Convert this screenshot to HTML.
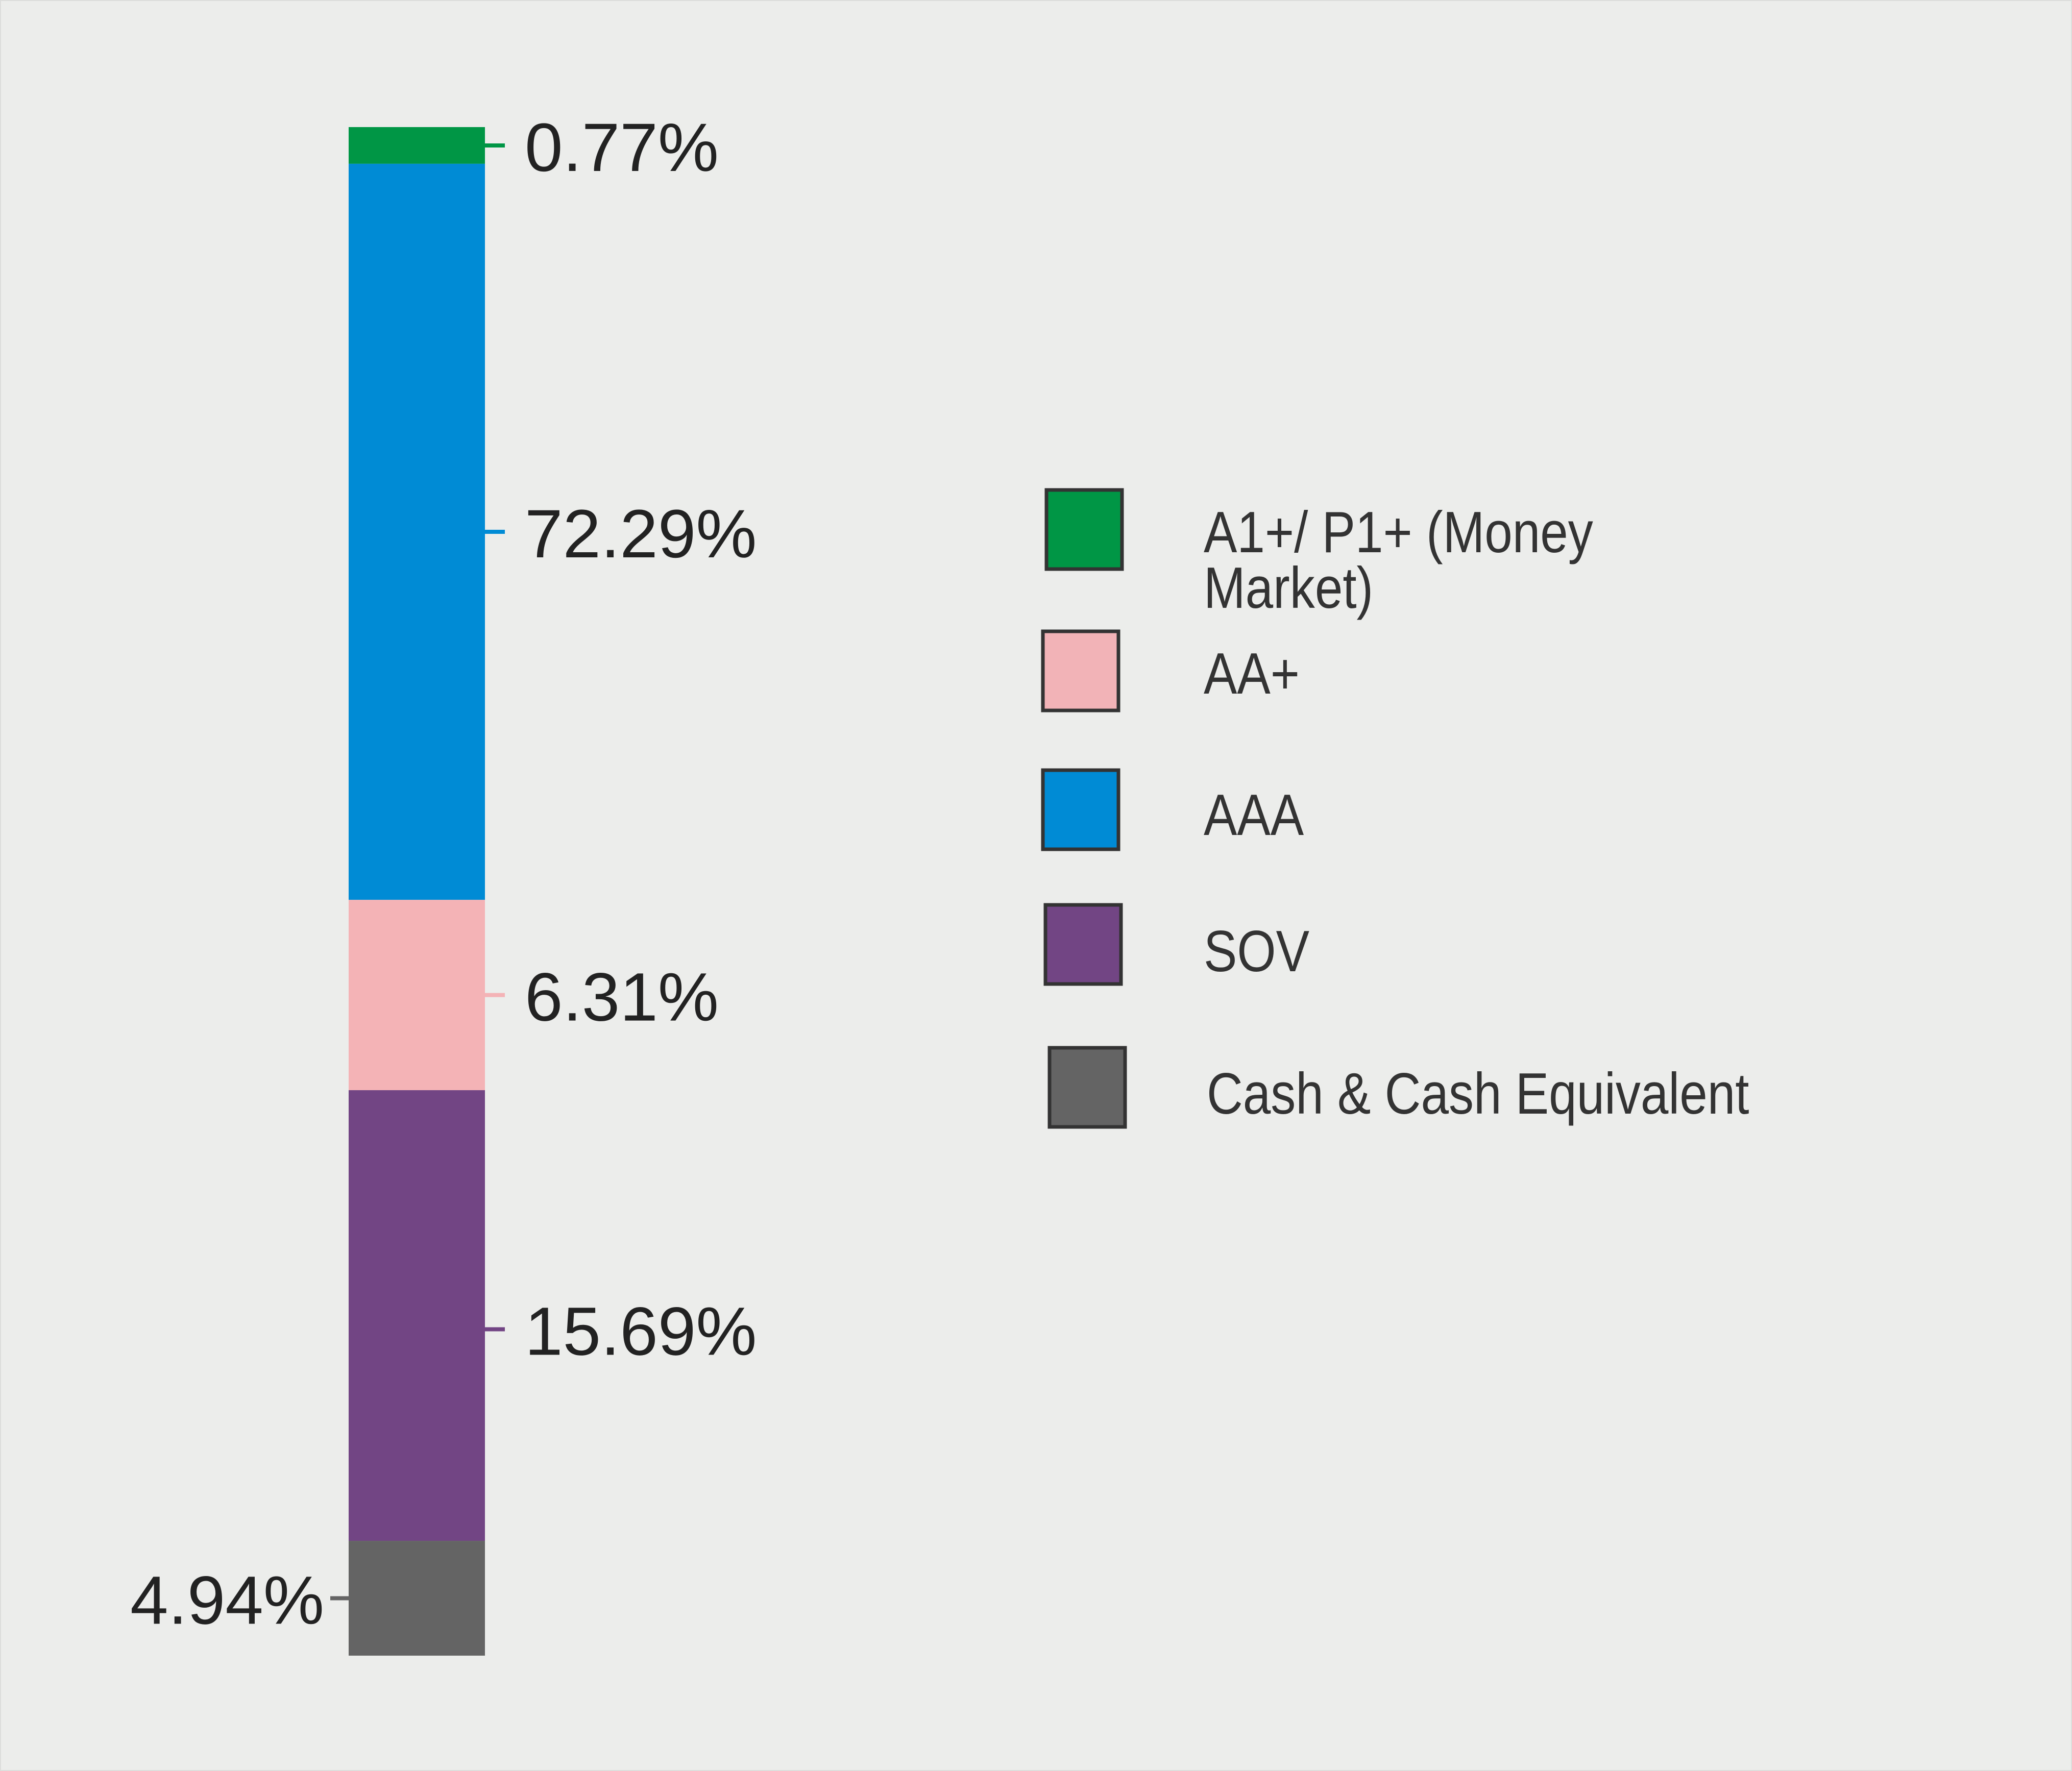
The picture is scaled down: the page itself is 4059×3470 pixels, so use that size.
<!DOCTYPE html>
<html><head><meta charset="utf-8"><style>
html,body{margin:0;padding:0;background:#ecedeb;}
svg{display:block;}
</style></head><body>
<svg id="chart" width="4059" height="3470" viewBox="0 0 4059 3470" xmlns="http://www.w3.org/2000/svg">
<rect x="0" y="0" width="4059" height="3470" fill="#ecedeb" stroke="#dcdddb" stroke-width="4"/>
<g id="bar"></g>
<g id="legend"></g>
</svg>
<script>
const categories = ["A1+/ P1+ (Money Market)", "AAA", "AA+", "SOV", "Cash & Cash Equivalent"];
const labels = ["0.77%", "72.29%", "6.31%", "15.69%", "4.94%"];
const segmentShares = [2.40, 48.15, 12.45, 29.48, 7.51];
const colors = ["#009645", "#008bd5", "#f4b3b6", "#724584", "#646464"];
const legendNames = ["A1+/ P1+ (Money", "AA+", "AAA", "SOV", "Cash & Cash Equivalent"];
const legendColors = ["#009645", "#f2b3b7", "#008bd5", "#724584", "#646464"];

const NS = "http://www.w3.org/2000/svg";
const barX = 683, barW = 267, barTop = 249, barBottom = 3244;
const total = segmentShares.reduce((a,b)=>a+b,0);
function yScale(v){ return barTop + (v/total)*(barBottom-barTop); }
const bar = document.getElementById('bar');
let cum = 0;
segmentShares.forEach((v,i)=>{
  const y0 = yScale(cum), y1 = yScale(cum+v);
  cum += v;
  const r = document.createElementNS(NS,'rect');
  r.setAttribute('x',barX); r.setAttribute('y',y0);
  r.setAttribute('width',barW); r.setAttribute('height',y1-y0);
  r.setAttribute('fill',colors[i]);
  
  
  bar.appendChild(r);
  const mid = (y0+y1)/2 + (i===3 ? 27 : 0);
  const last = i === segmentShares.length-1;
  const tk = document.createElementNS(NS,'line');
  tk.setAttribute('x1', last ? barX-36 : barX+barW);
  tk.setAttribute('x2', last ? barX : barX+barW+39);
  tk.setAttribute('y1',mid); tk.setAttribute('y2',mid);
  tk.setAttribute('stroke',colors[i]); tk.setAttribute('stroke-width',8);
  
  
  bar.appendChild(tk);
  const t = document.createElementNS(NS,'text');
  t.setAttribute('x', last ? barX-48 : barX+barW+78);
  t.setAttribute('y', mid+50);
  t.setAttribute('text-anchor', last ? 'end' : 'start');
  t.setAttribute('font-family','"Liberation Sans", "DejaVu Sans", sans-serif');
  t.setAttribute('font-size','134');
  t.setAttribute('fill','#222');
  t.textContent = labels[i];
  
  
  bar.appendChild(t);
});

const legend = document.getElementById('legend');
const boxes = [[2050,960],[2043,1237],[2043,1509],[2048,1773],[2056,2053]];
const textY = [1082,1359,1636,1903,2182];
legendNames.forEach((n,i)=>{
  const g = document.createElementNS(NS,'g');
  
  
  const r = document.createElementNS(NS,'rect');
  r.setAttribute('x',boxes[i][0]); r.setAttribute('y',boxes[i][1]);
  r.setAttribute('width',148); r.setAttribute('height',155);
  r.setAttribute('fill',legendColors[i]); r.setAttribute('stroke','#333');
  r.setAttribute('stroke-width',7);
  
  
  g.appendChild(r);
  const lines = i===0 ? [n, "Market)"] : [n];
  lines.forEach((s,j)=>{
    const t = document.createElementNS(NS,'text');
    const x = i===4 ? 2364 : 2358;
    t.setAttribute('x',0); t.setAttribute('y',0);
    t.setAttribute('transform','translate('+x+','+(textY[i]+j*109)+') scale(0.86,1)');
    t.setAttribute('font-family','"Liberation Sans", Arial, sans-serif');
    t.setAttribute('font-size','114');
    t.setAttribute('fill','#333');
    t.textContent = s;
    
    
    g.appendChild(t);
  });
  legend.appendChild(g);
});
</script>
</body></html>
